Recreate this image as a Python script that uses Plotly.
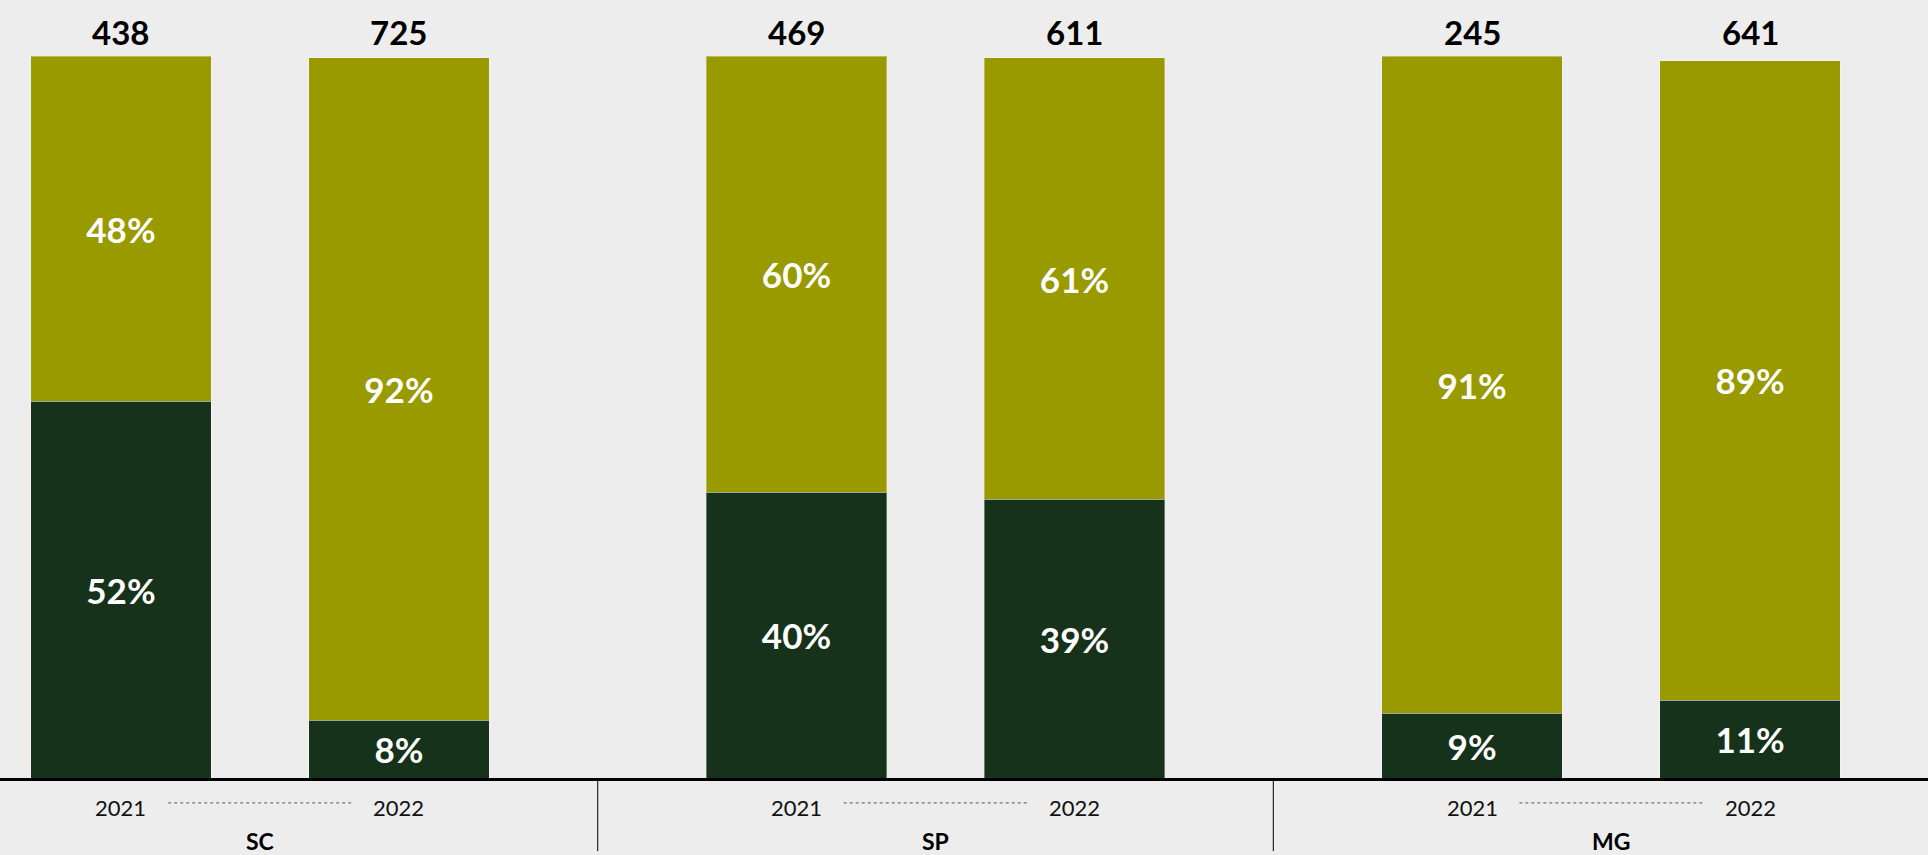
import plotly.graph_objects as go

# ---- data ----
groups = ["SC", "SP", "MG"]
years = ["2021", "2022"]
totals = [[438, 725], [469, 611], [245, 641]]
dark_share = [[52.2, 8.0], [39.6, 38.6], [9.0, 10.8]]     # lower segment (%)
olive_share = [[47.8, 91.8], [60.4, 61.2], [91.0, 88.6]]  # upper segment (%)

# ---- layout params ----
GROUP_STEP = 2.43
BAR_W = 0.65
OLIVE = "#999900"
DARK = "#17321A"
BG = "#EDEDED"

xs, xlab, dk, ol, tot = [], [], [], [], []
for gi, g in enumerate(groups):
    for yi, y in enumerate(years):
        xs.append(gi * GROUP_STEP + yi)
        xlab.append(y)
        dk.append(dark_share[gi][yi])
        ol.append(olive_share[gi][yi])
        tot.append(totals[gi][yi])

pct_font = dict(family="Lato", size=35, color="white", weight="bold")
fig = go.Figure()
fig.add_trace(go.Bar(
    x=xs, y=dk, width=BAR_W, marker=dict(color=DARK, line=dict(color="rgba(255,255,255,0.35)", width=1)),
    texttemplate="%{y:.0f}%", textposition="inside", insidetextanchor="middle",
    textfont=pct_font, textangle=0, hoverinfo="skip", cliponaxis=False))
fig.add_trace(go.Bar(
    x=xs, y=ol, width=BAR_W, marker=dict(color=OLIVE, line=dict(color="rgba(255,255,255,0.35)", width=1)),
    texttemplate="%{y:.0f}%", textposition="inside", insidetextanchor="middle",
    textfont=pct_font, textangle=0, hoverinfo="skip", cliponaxis=False))

annotations = []
for x, d, o, t, yl in zip(xs, dk, ol, tot, xlab):
    annotations.append(dict(x=x, y=100, xref="x", yref="y", text=f"<b>{t}</b>",
                            showarrow=False, yanchor="middle", yshift=24,
                            font=dict(family="Lato", size=33, color="black")))
    annotations.append(dict(x=x, y=0, xref="x", yref="paper", text=yl, showarrow=False,
                            yanchor="middle", yshift=-29,
                            font=dict(family="Lato", size=22, color="#111111")))

shapes = []
for gi, g in enumerate(groups):
    cx = gi * GROUP_STEP + 0.5
    annotations.append(dict(x=cx, y=0, xref="x", yref="paper", text=f"<b>{g}</b>", showarrow=False,
                            yanchor="middle", yshift=-63,
                            font=dict(family="Lato", size=23, color="black")))
    shapes.append(dict(type="line", xref="x", yref="paper", x0=gi * GROUP_STEP + 0.17,
                       x1=gi * GROUP_STEP + 0.83, y0=-0.032, y1=-0.032,
                       line=dict(color="#555555", width=1, dash="dot")))
    if gi > 0:
        sx = (gi - 1) * GROUP_STEP + 1 + (GROUP_STEP - 1) / 2
        shapes.append(dict(type="line", xref="x", yref="paper", x0=sx, x1=sx, y0=0, y1=-0.094,
                           line=dict(color="black", width=1)))

fig.update_layout(
    barmode="stack", width=1928, height=855, paper_bgcolor=BG, plot_bgcolor=BG,
    margin=dict(l=0, r=0, t=0, b=77), showlegend=False,
    xaxis=dict(range=[-0.435, 6.5], showticklabels=False, showgrid=False, zeroline=False,
               showline=True, linecolor="black", linewidth=2.5, ticks=""),
    yaxis=dict(range=[0, 107.8], visible=False, showgrid=False),
    annotations=annotations, shapes=shapes,
)
fig.write_html("out.html", config={"displayModeBar": False},
               post_script="document.body.style.margin='0';document.body.style.background='#EDEDED';document.body.style.overflow='hidden';")
